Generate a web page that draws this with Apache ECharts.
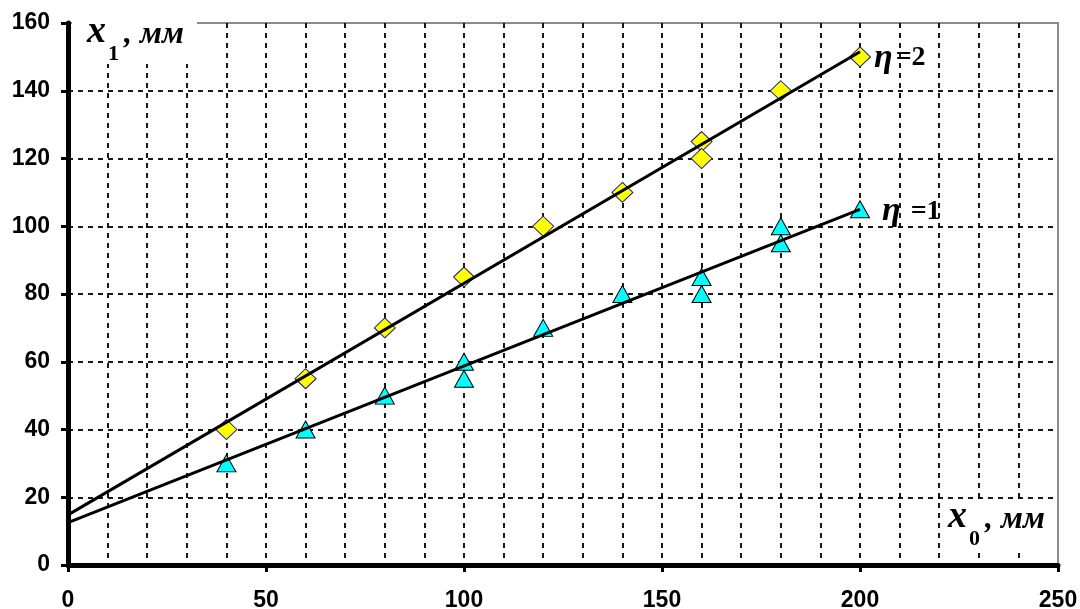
<!DOCTYPE html>
<html>
<head>
<meta charset="utf-8">
<script src="https://cdn.jsdelivr.net/npm/echarts@6/dist/echarts.min.js"></script>
<style>
  html, body { margin: 0; padding: 0; background: #fff; }
  #chart { width: 1080px; height: 609px; }
</style>
</head>
<body>
<div id="chart"></div>
<script>
// Measured points, η = 2 (diamonds)
const eta2X = [40, 60, 80, 100, 120, 140, 160, 160, 180, 200];
const eta2Y = [40, 55, 70, 85, 100, 110, 125, 120, 140, 150];
// Measured points, η = 1 (triangles)
const eta1X = [40, 60, 80, 100, 100, 120, 140, 160, 160, 180, 180, 200];
const eta1Y = [30, 40, 50, 60, 55, 70, 80, 85, 80, 100, 95, 105];
// Straight-line fits, end points
const fit2X = [0, 200];
const fit2Y = [14.8, 151.5];
const fit1X = [0, 200];
const fit1Y = [12.5, 105];
// Axis ranges
const xRange = [0, 250, 50];
const yRange = [0, 160, 20];

const pairs = (xs, ys) => xs.map((x, i) => [x, ys[i]]);

const serif = '"Liberation Serif", "Times New Roman", serif';
const sans = '"Liberation Sans", Arial, sans-serif';
const dash = { color: '#000', width: 1.8, type: [5, 5] };

const chart = echarts.init(document.getElementById('chart'), null, { renderer: 'canvas' });

function titleParts(x0, base, sub) {
  return [
    { type: 'text', z: 20, x: x0, y: base - 11,
      style: { text: 'x', font: 'italic bold 38px ' + serif, fill: '#000', verticalAlign: 'middle' } },
    { type: 'text', z: 20, x: x0 + 21, y: base + 11,
      style: { text: sub, font: 'bold 22px ' + serif, fill: '#000', verticalAlign: 'middle' } },
    { type: 'text', z: 20, x: x0 + 37, y: base - 8,
      style: { text: ', мм', font: 'italic bold 32px ' + serif, fill: '#000', verticalAlign: 'middle' } }
  ];
}

const etaRich = {
  e: { fontFamily: serif, fontStyle: 'italic', fontWeight: 'bold', fontSize: 34, color: '#000' },
  v: { fontFamily: serif, fontWeight: 'bold', fontSize: 28, color: '#000', padding: [0, 0, 0, 3] }
};

chart.setOption({
  animation: false,
  backgroundColor: '#fff',
  grid: {
    left: 68, right: 22, top: 23, bottom: 44,
    outerBoundsMode: 'none', containLabel: false,
    show: true, borderColor: '#8c8c8c', borderWidth: 2, backgroundColor: '#fff'
  },
  xAxis: {
    type: 'value', z: 0, min: xRange[0], max: xRange[1], interval: xRange[2],
    axisLine: { lineStyle: { color: '#000', width: 5 } },
    axisTick: { show: true, length: 7, lineStyle: { color: '#000', width: 3 } },
    axisLabel: { color: '#000', fontFamily: sans, fontWeight: 'bold', fontSize: 23, margin: 24 },
    splitLine: { show: true, showMaxLine: false, showMinLine: false, lineStyle: dash },
    minorTick: { show: false, splitNumber: 5 },
    minorSplitLine: { show: true, lineStyle: dash }
  },
  yAxis: {
    type: 'value', z: 0, min: yRange[0], max: yRange[1], interval: yRange[2],
    axisLine: { show: true, lineStyle: { color: '#000', width: 5 } },
    axisTick: { show: true, length: 7, lineStyle: { color: '#000', width: 3 } },
    axisLabel: { color: '#000', fontFamily: sans, fontWeight: 'bold', fontSize: 23, margin: 18 },
    splitLine: { show: true, showMaxLine: false, showMinLine: false, lineStyle: dash }
  },
  series: [
    {
      name: 'η=2', type: 'scatter', zlevel: 1, z: 3,
      symbol: 'diamond', symbolSize: [21, 20],
      itemStyle: { color: '#ffff00', borderColor: '#1c1c8c', borderWidth: 1, opacity: 1 },
      data: pairs(eta2X, eta2Y)
    },
    {
      name: 'η=1', type: 'scatter', zlevel: 1, z: 3,
      symbol: 'triangle', symbolSize: [19, 17],
      itemStyle: { color: '#00ffff', borderColor: '#000', borderWidth: 1, opacity: 1 },
      data: pairs(eta1X, eta1Y)
    },
    {
      type: 'line', zlevel: 1, z: 5, symbol: 'none', silent: true,
      lineStyle: { color: '#000', width: 3 },
      data: pairs(fit2X, fit2Y),
      endLabel: { show: true, distance: 14, offset: [0, 6], formatter: '{e|η}{v|=2}', rich: etaRich }
    },
    {
      type: 'line', zlevel: 1, z: 5, symbol: 'none', silent: true,
      lineStyle: { color: '#000', width: 3 },
      data: pairs(fit1X, fit1Y),
      endLabel: { show: true, distance: 22, offset: [0, 2], formatter: '{e|η}{v| =1}', rich: etaRich }
    }
  ],
  graphic: [
    // backdrop for the vertical axis caption
    { type: 'rect', z: 10, shape: { x: 72, y: 0, width: 125, height: 64 }, style: { fill: '#fff' } },
    // backdrop for the horizontal axis caption
    { type: 'rect', z: 10, shape: { x: 945, y: 501, width: 107, height: 51 }, style: { fill: '#fff' } }
  ].concat(titleParts(87, 43, '1'), titleParts(948, 528, '0'))
});
</script>
</body>
</html>
